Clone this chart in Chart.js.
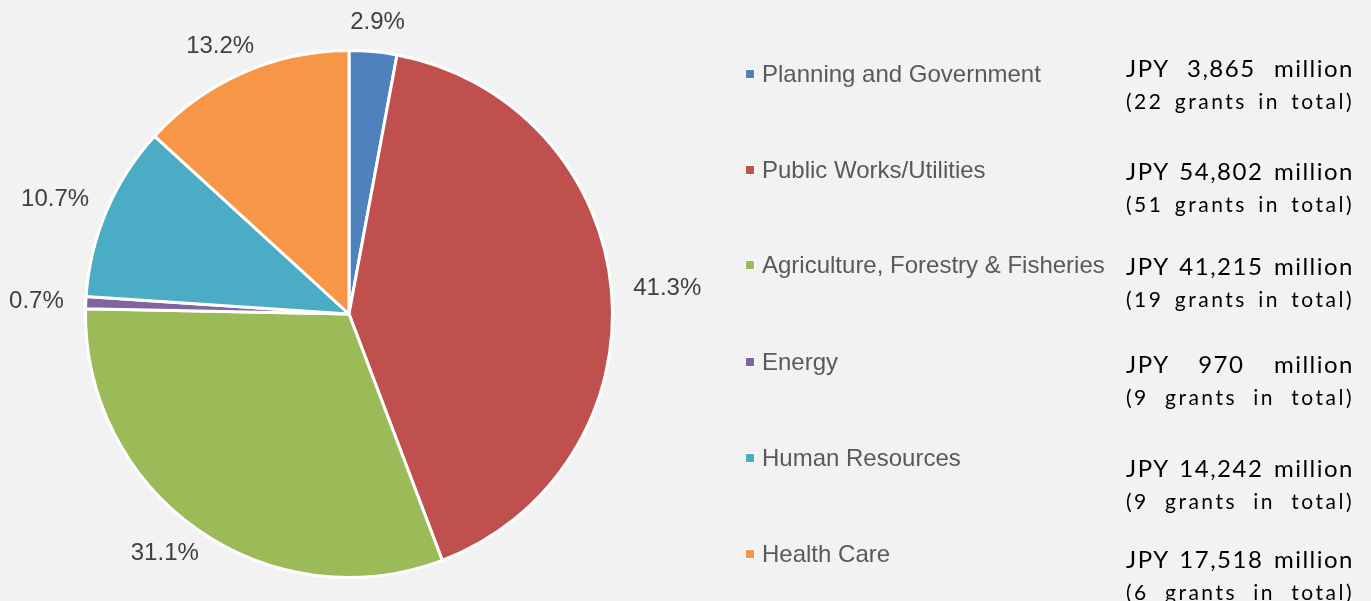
<!DOCTYPE html>
<html>
<head>
<meta charset="utf-8">
<script src="https://cdn.jsdelivr.net/npm/chart.js@4/dist/chart.umd.min.js"></script>
<style>
  html, body { margin: 0; padding: 0; background: #F2F2F2; }
  #wrap { position: relative; width: 1371px; height: 601px; overflow: hidden; background: #F2F2F2; }
  #c { position: absolute; left: 0; top: 0; }
  .lg { position: absolute; left: 745px; font-family: "Liberation Sans", Arial, sans-serif; font-size: 24px; line-height: 24px; color: #595959; white-space: nowrap; }
  .lg .sw { display: inline-block; width: 8px; height: 8px; border: 1.5px solid #fff; margin-right: 7px; vertical-align: 3px; }
  .amt { position: absolute; left: 1126px; width: 228px; font-family: Lato, "Open Sans", sans-serif; color: #000; text-align: justify; text-align-last: justify; white-space: nowrap; }
  .amt.l1 { font-size: 24px; line-height: 24px; letter-spacing: 1.5px; }
  .amt.l2 { font-size: 21px; line-height: 21px; letter-spacing: 2.5px; }
</style>
</head>
<body>
<div id="wrap">
  <canvas id="c" width="1371" height="601"></canvas>
</div>
<script>
const categories = ["Planning and Government", "Public Works/Utilities", "Agriculture, Forestry & Fisheries", "Energy", "Human Resources", "Health Care"];
const amountsJPYMillion = [3865, 54802, 41215, 970, 14242, 17518];
const grantCounts = [22, 51, 19, 9, 9, 6];
const colors = ["#4F81BD", "#C0504D", "#9BBB59", "#8064A2", "#4BACC6", "#F79646"];

const total = amountsJPYMillion.reduce((a, b) => a + b, 0);
const fmt = n => n.toLocaleString("en-US");

// legend + amounts (HTML text)
const wrap = document.getElementById("wrap");
const legendBaselines = [82, 178, 273, 370, 466, 562];
const amtBaselines = [77, 180, 275, 373, 477, 568];
categories.forEach((cat, i) => {
  const lg = document.createElement("div");
  lg.className = "lg";
  lg.style.top = (legendBaselines[i] - 20) + "px";
  lg.innerHTML = '<span class="sw" style="background:' + colors[i] + '"></span>' + cat.replace(/&/g, "&amp;");
  wrap.appendChild(lg);
  const a1 = document.createElement("div");
  a1.className = "amt l1";
  a1.style.top = (amtBaselines[i] - 21) + "px";
  a1.textContent = "JPY " + fmt(amountsJPYMillion[i]) + " million";
  wrap.appendChild(a1);
  const a2 = document.createElement("div");
  a2.className = "amt l2";
  a2.style.top = (amtBaselines[i] + 32 - 19) + "px";
  a2.textContent = "(" + grantCounts[i] + " grants in total)";
  wrap.appendChild(a2);
});

const outsideLabels = {
  id: "outsideLabels",
  afterDatasetsDraw(chart) {
    const ctx = chart.ctx;
    const meta = chart.getDatasetMeta(0);
    const data = chart.data.datasets[0].data;
    const sum = data.reduce((a, b) => a + b, 0);
    ctx.save();
    ctx.font = '24px "Liberation Sans", Arial, sans-serif';
    ctx.fillStyle = "#404040";
    ctx.textAlign = "center";
    ctx.textBaseline = "middle";
    meta.data.forEach((arc, i) => {
      const p = arc.getProps(["x", "y", "startAngle", "endAngle", "outerRadius"], true);
      const mid = (p.startAngle + p.endAngle) / 2;
      const ux = Math.cos(mid), uy = Math.sin(mid);
      const txt = (data[i] / sum * 100).toFixed(1) + "%";
      const w = ctx.measureText(txt).width;
      const h = 14;
      const g = 22;
      const cx = p.x + (p.outerRadius + g) * ux + ux * w / 2;
      const cy = p.y + (p.outerRadius + g) * uy + uy * h / 2;
      ctx.fillText(txt, cx, cy);
    });
    ctx.restore();
  }
};

new Chart(document.getElementById("c"), {
  type: "pie",
  data: {
    labels: categories,
    datasets: [{
      data: amountsJPYMillion,
      backgroundColor: colors,
      borderColor: "#FFFFFF",
      borderWidth: 3
    }]
  },
  options: {
    responsive: false,
    animation: false,
    layout: { padding: { left: 84, top: 49, right: 757, bottom: 22 } },
    plugins: {
      legend: { display: false },
      tooltip: { enabled: false }
    }
  },
  plugins: [outsideLabels]
});
</script>
</body>
</html>
